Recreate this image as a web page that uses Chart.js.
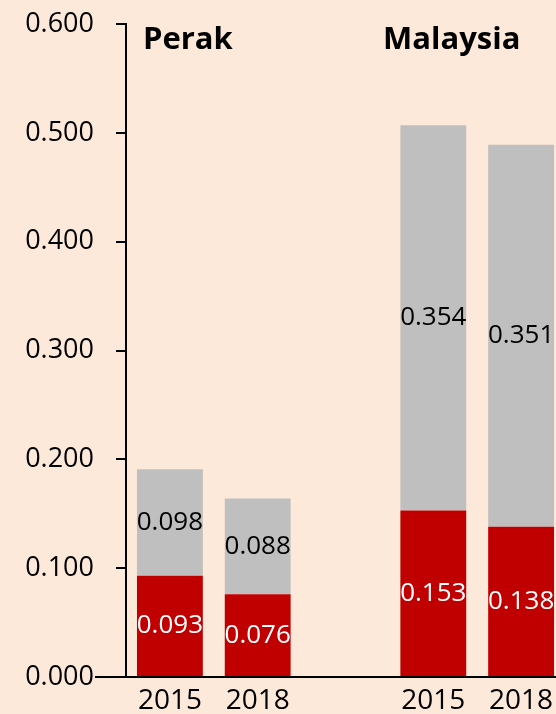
<!DOCTYPE html>
<html lang="en">
<head>
  <meta charset="UTF-8" />
  <title>Perak vs Malaysia</title>
  <script src="https://cdn.jsdelivr.net/npm/chart.js@4"></script>
  <style>
    html, body { margin: 0; padding: 0; background: #FDE9D9; overflow: hidden; }
    #wrap { width: 556px; height: 714px; overflow: hidden; }
    canvas { display: block; }
  </style>
</head>
<body>
  <div id="wrap">
    <canvas id="chart" width="566" height="714"></canvas>
  </div>
  <script>
    // data
    const categories = ['2015', '2018', '', '2015', '2018'];
    const redValues = [0.093, 0.076, null, 0.153, 0.138];
    const greyValues = [0.098, 0.088, null, 0.354, 0.351];
    const yTickValues = [0, 0.1, 0.2, 0.3, 0.4, 0.5, 0.6];
    const groupTitles = ['Perak', 'Malaysia'];

    const FONT = "'Open Sans', 'DejaVu Sans', sans-serif";

    const valueLabels = {
      id: 'valueLabels',
      afterDatasetsDraw(chart) {
        const ctx = chart.ctx;
        ctx.save();
        ctx.font = '26px ' + FONT;
        ctx.textAlign = 'center';
        ctx.textBaseline = 'middle';
        chart.data.datasets.forEach((ds, i) => {
          const meta = chart.getDatasetMeta(i);
          meta.data.forEach((bar, j) => {
            const v = ds.data[j];
            if (v == null) return;
            const p = bar.getProps(['x', 'y', 'base'], true);
            ctx.fillStyle = ds.labelColor;
            ctx.fillText(v.toFixed(3), p.x, (p.y + p.base) / 2);
          });
        });
        ctx.restore();
      }
    };

    const extras = {
      id: 'extras',
      afterDraw(chart) {
        const ctx = chart.ctx;
        const area = chart.chartArea;
        ctx.save();
        // x axis line runs past the y axis, under the 0.000 label
        ctx.strokeStyle = '#000';
        ctx.lineWidth = 2;
        ctx.beginPath();
        ctx.moveTo(95, area.bottom);
        ctx.lineTo(area.left, area.bottom);
        ctx.stroke();
        // group titles
        ctx.fillStyle = '#000';
        ctx.font = 'bold 31px ' + FONT;
        ctx.textBaseline = 'alphabetic';
        ctx.textAlign = 'left';
        ctx.fillText(groupTitles[0], 143, 49);
        ctx.fillText(groupTitles[1], 383, 49);
        ctx.restore();
      }
    };

    new Chart(document.getElementById('chart'), {
      type: 'bar',
      data: {
        labels: categories,
        datasets: [
          {
            label: 'red',
            data: redValues,
            backgroundColor: '#C00000',
            labelColor: '#FFFFFF',
            barPercentage: 0.75,
            categoryPercentage: 1
          },
          {
            label: 'grey',
            data: greyValues,
            backgroundColor: '#BFBFBF',
            labelColor: '#000000',
            barPercentage: 0.75,
            categoryPercentage: 1
          }
        ]
      },
      options: {
        responsive: false,
        animation: false,
        layout: { padding: { top: 24, right: 1, bottom: 0, left: 0 } },
        plugins: {
          legend: { display: false },
          tooltip: { enabled: false },
          title: { display: false }
        },
        scales: {
          x: {
            stacked: true,
            grid: { display: false, drawTicks: false },
            border: { display: true, color: '#000', width: 2 },
            ticks: { color: '#000', font: { family: FONT, size: 28 }, padding: 7 },
            afterFit(scale) { scale.height = 37; }
          },
          y: {
            stacked: true,
            min: 0,
            max: 0.6,
            afterBuildTicks(scale) { scale.ticks = yTickValues.map(v => ({ value: v })); },
            grid: { drawOnChartArea: false, drawTicks: true, tickLength: 10, tickColor: '#000', lineWidth: 2 },
            border: { display: true, color: '#000', width: 2 },
            ticks: {
              color: '#000',
              font: { family: FONT, size: 27 },
              padding: 22,
              callback: v => Number(v).toFixed(3)
            },
            afterFit(scale) {
              scale.width = 126;
              scale.paddingTop = 10;
              scale.paddingBottom = 10;
            }
          }
        }
      },
      plugins: [valueLabels, extras]
    });
  </script>
</body>
</html>
